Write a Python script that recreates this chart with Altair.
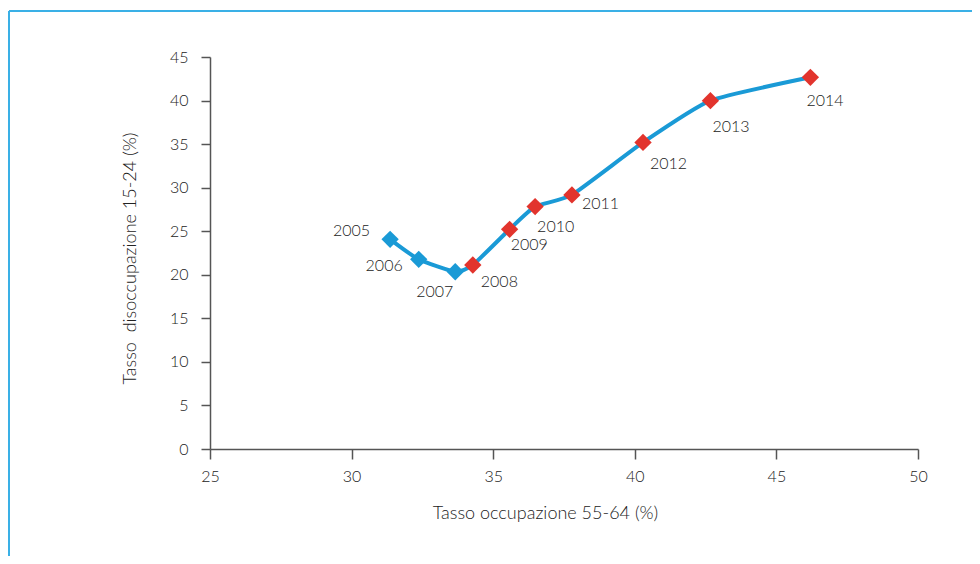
import altair as alt
import pandas as pd

# Data
years = [2005, 2006, 2007, 2008, 2009, 2010, 2011, 2012, 2013, 2014]
occupazione_55_64 = [31.36, 32.37, 33.66, 34.28, 35.58, 36.48, 37.78, 40.29, 42.67, 46.2]
disoccupazione_15_24 = [24.07, 21.77, 20.35, 21.12, 25.22, 27.83, 29.17, 35.19, 39.99, 42.67]

df = pd.DataFrame({
    "anno": years,
    "occ": occupazione_55_64,
    "dis": disoccupazione_15_24,
})
df["label"] = df["anno"].astype(str)

FONT = "Lato"
FW = 300
TEXT = "#222222"
AXIS = "#555555"
BLUE = "#1a9ad6"
RED = "#e2342d"
FRAME = "#3ab0e6"

x_enc = alt.X("occ:Q", scale=alt.Scale(domain=[25, 50], nice=False, zero=False),
              axis=alt.Axis(values=[25, 30, 35, 40, 45, 50], title="Tasso occupazione 55-64 (%)",
                            grid=False, domainColor=AXIS, domainWidth=1.5, tickColor=AXIS,
                            tickWidth=1.5, tickSize=10, labelPadding=9, labelFontSize=16,
                            labelFlush=False, labelFontWeight=FW,
                            labelColor=TEXT, labelFont=FONT, titleFont=FONT, titleFontSize=18,
                            titleFontWeight=FW, titleColor=TEXT, titleX=335, titleY=64,
                            titleAlign="center", titleBaseline="middle"))
y_enc = alt.Y("dis:Q", scale=alt.Scale(domain=[0, 45], nice=False, zero=False),
              axis=alt.Axis(values=list(range(0, 50, 5)),
                            title="Tasso\u00a0 disoccupazione 15-24 (%)",
                            grid=False, domainColor=AXIS, domainWidth=1.5, tickColor=AXIS,
                            tickWidth=1.5, tickSize=9, labelPadding=13, labelFontSize=16,
                            labelFlush=False, labelFontWeight=FW,
                            labelColor=TEXT, labelFont=FONT, titleFont=FONT, titleFontSize=18,
                            titleFontWeight=FW, titleColor=TEXT, titleX=-80, titleY=201,
                            titleAlign="center", titleBaseline="middle"))

base = alt.Chart(df)

line = base.mark_line(interpolate="cardinal", tension=0.5, color=BLUE, strokeWidth=4).encode(
    x=x_enc, y=y_enc, order="occ:Q")

points = base.mark_point(shape="diamond", filled=True, size=300, opacity=1).encode(
    x="occ:Q", y="dis:Q",
    color=alt.condition("datum.anno < 2008", alt.value(BLUE), alt.value(RED)))

# label placement (style, not data)
label_style = {
    2005: ("right", -20, -8),
    2006: ("right", -16, 7),
    2007: ("right", -2, 20),
    2008: ("left", 8, 17),
    2009: ("left", 1, 16),
    2010: ("left", 2, 20),
    2011: ("left", 10, 9),
    2012: ("left", 7, 22),
    2013: ("left", 2, 26),
    2014: ("left", -4, 24),
}
labels = []
for yr, (al, dx, dy) in label_style.items():
    labels.append(
        base.transform_filter(f"datum.anno == {yr}").mark_text(
            align=al, baseline="middle", dx=dx, dy=dy, font=FONT, fontSize=16,
            fontWeight=FW, color=TEXT
        ).encode(x="occ:Q", y="dis:Q", text="label:N")
    )

one = alt.Data(values=[{"k": 1}])
frame_top = alt.Chart(one).mark_rule(color=FRAME, strokeWidth=2).encode(
    x=alt.value(-201), x2=alt.value(2000), y=alt.value(-46))
frame_left = alt.Chart(one).mark_rule(color=FRAME, strokeWidth=2).encode(
    x=alt.value(-201), y=alt.value(-46), y2=alt.value(2000))

chart = alt.layer(frame_top, frame_left, line, points, *labels).properties(
    width=708, height=392,
    autosize=alt.AutoSizeParams(type="none"),
    padding={"left": 202, "top": 49, "right": 54, "bottom": 107},
    background="white",
).configure_view(stroke=None)

chart.save("out.html", embed_options={"renderer": "svg", "actions": False})
